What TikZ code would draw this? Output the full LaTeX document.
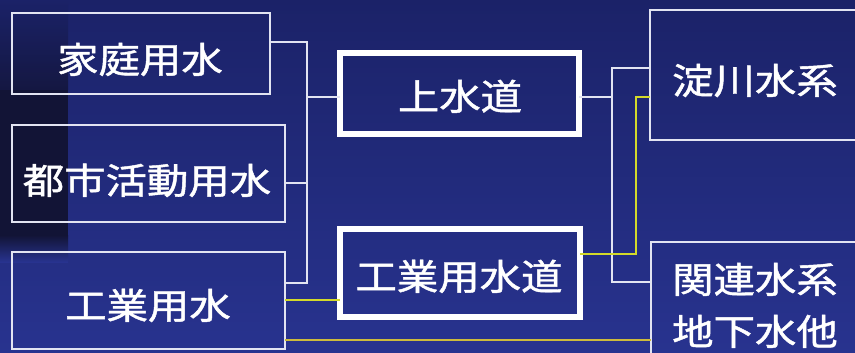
\documentclass[tikz,border=0pt]{standalone}
\usepackage{fontspec}
\newfontfamily\jp[FakeBold=1.2]{Noto Sans CJK JP}
\definecolor{bgA}{HTML}{1B2268}
\definecolor{bgB}{HTML}{28338F}
\definecolor{dark}{HTML}{121436}
\definecolor{wl}{HTML}{E2E4F2}
\definecolor{yl}{HTML}{D4DA2A}
\definecolor{ol}{HTML}{CDBB3C}
\tikzset{
  thinbox/.style={draw=wl, line width=2.6pt, outer sep=0pt, inner sep=0pt},
  thickbox/.style={draw=white, line width=6pt, outer sep=0pt, inner sep=0pt},
  lbl/.style={text=white, font=\jp\fontsize{36}{52}\selectfont, anchor=base, inner sep=0pt, xscale=1.15, transform shape},
  wline/.style={draw=wl, line width=2.2pt},
  yline/.style={draw=yl, line width=2.8pt},
  oline/.style={draw=ol, line width=2.8pt}
}
\begin{document}
\begin{tikzpicture}[x=1pt,y=-1pt]
\useasboundingbox (0,0) rectangle (855,353);
% background
\shade[top color=bgA, bottom color=bgB] (0,0) rectangle (855,353);
\shade[top color=bgA, bottom color=dark, opacity=0.8] (0,0) rectangle (68,90);
\fill[dark] (0,90) rectangle (68,235);
\shade[top color=dark, bottom color=bgB] (0,235) rectangle (68,262);
% boxes
\node[thinbox, minimum width=258pt, minimum height=81pt] (katei) at (141,53.5) {};
\node[thinbox, minimum width=273pt, minimum height=97pt] (toshi) at (148.5,173.5) {};
\node[thinbox, minimum width=273pt, minimum height=97pt] (kogyo) at (148.5,300.5) {};
\node[thickbox, minimum width=239pt, minimum height=81pt] (josui) at (459.5,93.5) {};
\node[thickbox, minimum width=240pt, minimum height=88pt] (kogyosui) at (460,273) {};
\node[thinbox, minimum width=210pt, minimum height=130pt] (yodo) at (755,75) {};
\node[thinbox, minimum width=209pt, minimum height=128pt] (kanren) at (755.5,306) {};
% labels
\node[lbl] (tkatei) at (140,73) {家庭用水};
\node[lbl] (ttoshi) at (147,194) {都市活動用水};
\node[lbl] (tkogyo) at (148,319) {工業用水};
\node[lbl] (tjosui) at (460,110) {上水道};
\node[lbl] (tkogyosui) at (459,290) {工業用水道};
\node[lbl] (tyodo) at (755,94) {淀川水系};
\node[lbl] (tkanren1) at (755,293) {関連水系};
\node[lbl] (tkanren2) at (755,345) {地下水他};
% connector points
\coordinate (lbTop) at (307,42);
\coordinate (lbToshi) at (307,183);
\coordinate (lbMid) at (307,97);
\coordinate (lbBot) at (307,283);
\coordinate (rbTop) at (612,68);
\coordinate (rbMid) at (612,97);
\coordinate (rbBot) at (612,282);
\coordinate (y1) at (311,300);
\coordinate (y2a) at (636,254);
\coordinate (y2b) at (636,97);
\coordinate (y3) at (470,340);
% white connectors
\draw[wline] (katei.east |- lbTop) -- (lbTop) -- (lbBot) -- (kogyo.east |- lbBot);
\draw[wline] (toshi.east |- lbToshi) -- (lbToshi);
\draw[wline] (lbMid) -- (josui.west |- lbMid);
\draw[wline] (yodo.west |- rbTop) -- (rbTop) -- (rbBot) -- (kanren.west |- rbBot);
\draw[wline] (josui.east |- rbMid) -- (rbMid);
% yellow connectors
\draw[yline] (kogyo.east |- y1) -- (kogyosui.west |- y1);
\draw[yline] (kogyosui.east |- y2a) -- (y2a) -- (y2b) -- (yodo.west |- y2b);
\draw[oline] (kogyo.east |- y3) -- (kanren.west |- y3);
\end{tikzpicture}
\end{document}
